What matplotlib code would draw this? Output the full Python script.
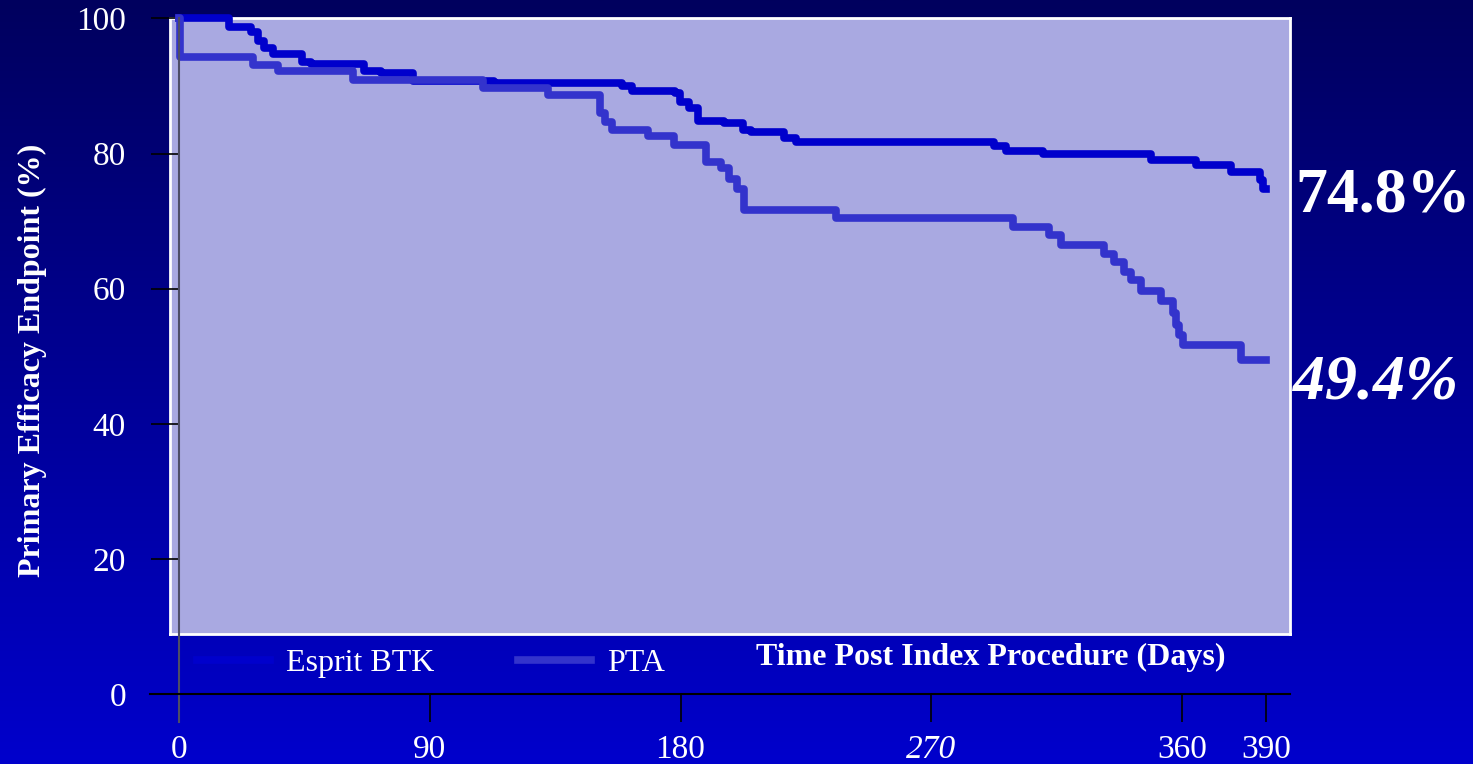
import numpy as np
import matplotlib
matplotlib.use('Agg')
import matplotlib.pyplot as plt
from matplotlib.colors import LinearSegmentedColormap

# Kaplan-Meier style step curves
esprit_days = [0, 18, 26, 28.4, 30.6, 33.8, 44.2, 47.5, 66.5, 72.6,
               84, 113, 159, 162.6, 178, 179.8, 183, 186.3, 195.6, 202.4,
               205.3, 217, 221.4, 292.4, 296.7, 310, 348.7, 364.9, 377.4, 387.8,
               389, 390]
esprit_pct = [100, 98.8, 98.0, 96.6, 95.6, 94.8, 93.6, 93.2, 92.3, 91.9,
              90.7, 90.5, 90.0, 89.2, 88.9, 87.7, 86.7, 84.8, 84.5, 83.5,
              83.2, 82.3, 81.7, 81.1, 80.4, 80.0, 79.1, 78.3, 77.3, 76.1,
              74.8, 74.8]

pta_days = [0, 0.5, 26.6, 35.6, 62.5, 109.1, 132.5, 151.1, 152.9, 155.4,
            168.3, 177.6, 189.1, 194.5, 197.4, 200.2, 202.7, 235.7, 299.2, 312.1,
            316.5, 331.9, 335.5, 339.0, 341.6, 345.2, 352.3, 356.6, 357.7, 358.8,
            360.2, 381, 390]
pta_pct = [100, 94.3, 93.1, 92.2, 90.9, 89.7, 88.7, 86.0, 84.7, 83.5,
           82.6, 81.3, 78.7, 77.8, 76.3, 74.8, 71.7, 70.4, 69.1, 67.9,
           66.5, 65.2, 63.9, 62.5, 61.3, 59.6, 58.2, 56.4, 54.6, 53.1,
           51.6, 49.4, 49.4]

x_ticks = [0, 90, 180, 270, 360, 390]
x_tick_labels = ['0', '90', '180', '270', '360', '390']
y_ticks = [0, 20, 40, 60, 80, 100]
final_labels = ['74.8%', '49.4%']

SERIF = 'Liberation Serif'
W, H = 1473, 764

def box(l, t, r, b):
    return [l / W, 1 - b / H, (r - l) / W, (b - t) / H]

fig = plt.figure(figsize=(W / 100, H / 100), dpi=100)

# gradient slide background
bg = fig.add_axes([0, 0, 1, 1], zorder=0)
grad = np.linspace(0, 1, 256).reshape(-1, 1)
bg_cmap = LinearSegmentedColormap.from_list('bg', ['#00005e', '#0000cc'])
bg.imshow(grad, aspect='auto', cmap=bg_cmap, extent=[0, 1, 0, 1], origin='upper')
bg.axis('off')

# lavender plot panel
panel = fig.add_axes(box(170, 18, 1290, 634), zorder=1)
panel.set_facecolor('#a9a9e1')
panel.set_xticks([])
panel.set_yticks([])
for s in panel.spines.values():
    s.set_color('white')
    s.set_linewidth(2)

ax = fig.add_axes(box(150, 18, 1290, 722), zorder=2)
ax.set_facecolor('none')
px_day = (1266 - 178.7) / 390
px_pct = (694 - 18.5) / 100
ax.set_xlim(-(178.7 - 150) / px_day, (1290 - 178.7) / px_day)
ax.set_ylim(-(722 - 694) / px_pct, 100 + 0.5 / px_pct)

ax.plot(esprit_days, esprit_pct, drawstyle='steps-post', color='#0000cc', lw=5.5,
        solid_joinstyle='round', clip_on=False, label='Esprit BTK')
ax.plot(pta_days, pta_pct, drawstyle='steps-post', color='#3333cc', lw=5.5,
        solid_joinstyle='round', clip_on=False, label='PTA')

ax.spines['top'].set_visible(False)
ax.spines['right'].set_visible(False)
ax.spines['left'].set_position(('data', 0))
ax.spines['left'].set_color('#4d4d66')
ax.spines['left'].set_linewidth(1.5)
ax.spines['bottom'].set_position(('data', 0))
ax.spines['bottom'].set_color('black')
ax.spines['bottom'].set_linewidth(1.5)

ax.set_xticks(x_ticks, x_tick_labels)
ax.set_yticks(y_ticks)
ax.tick_params(axis='both', direction='out', length=20, width=1.2, color='black',
               labelcolor='white', labelsize=24)
ax.tick_params(axis='x', pad=9)
ax.tick_params(axis='y', pad=18)
for lbl in ax.get_xticklabels() + ax.get_yticklabels():
    lbl.set_fontfamily(SERIF)
ax.get_xticklabels()[3].set_fontstyle('italic')

ax.set_xlabel('Time Post Index Procedure (Days)', fontsize=23, fontweight='bold',
              color='white', family=SERIF)
ax.xaxis.set_label_coords((991 - 150) / 1140, (722 - 657) / 704)
ax.xaxis.label.set_va('center')
ax.set_ylabel('Primary Efficacy Endpoint (%)', fontsize=23, fontweight='bold',
              color='white', family=SERIF)
ax.yaxis.set_label_coords((32 - 150) / 1140, (722 - 360) / 704)
ax.yaxis.label.set_va('center')

ax.legend(loc='center left', bbox_to_anchor=(197 / W, 1 - 663 / H),
          bbox_transform=fig.transFigure, ncol=2, frameon=False,
          prop={'family': SERIF, 'size': 23}, labelcolor='white',
          handlelength=2.3, handletextpad=0.5, columnspacing=2.6,
          borderpad=0, borderaxespad=0)

fig.text(1295 / W, 1 - 212 / H, final_labels[0], fontsize=46, fontweight='bold',
         color='white', family=SERIF, va='baseline', ha='left')
fig.text(1293 / W, 1 - 399 / H, final_labels[1], fontsize=46, fontweight='bold',
         fontstyle='italic', color='white', family=SERIF, va='baseline', ha='left')

fig.savefig('out.png', dpi=100)
